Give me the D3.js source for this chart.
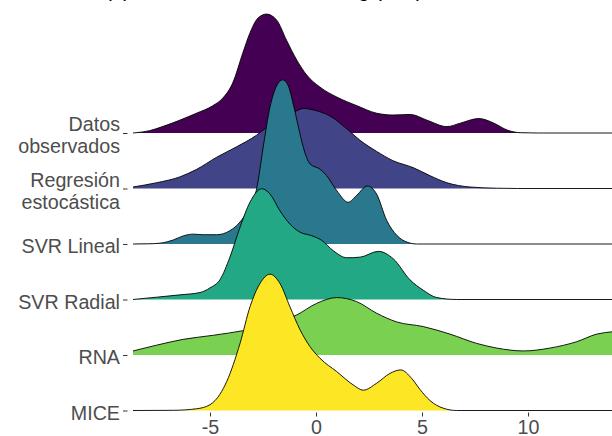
<!DOCTYPE html>
<html>
<head>
<meta charset="utf-8">
<script src="https://cdn.jsdelivr.net/npm/d3@7"></script>
<style>
  html, body { margin: 0; padding: 0; background: #fff; }
  svg { display: block; font-family: "Liberation Sans", Arial, sans-serif; }
</style>
</head>
<body>
<svg id="chart" width="612" height="436"></svg>
<script>
// Categories, top ridge first
const categories = ["Datos observados", "Regresión estocástica", "SVR Lineal", "SVR Radial", "RNA", "MICE"];
const tickLabels = [["Datos", "observados"], ["Regresión", "estocástica"], ["SVR Lineal"], ["SVR Radial"], ["RNA"], ["MICE"]];
const colors = ["#440154", "#414487", "#2A788E", "#22A884", "#7AD151", "#FDE725"];
const xTicks = [-5, 0, 5, 10];
const titleText = "(a) Distribución en escala log (mm)";

// Kernel density estimates: [value, density]
const densObservados = [[-8.63,0],[-8.48,0.0005],[-7.85,0.004],[-7.24,0.011],[-6.43,0.022],[-5.64,0.034],[-4.87,0.047],[-4.40,0.060],[-3.93,0.086],[-3.45,0.138],[-3.12,0.172],[-2.74,0.198],[-2.33,0.205],[-1.86,0.195],[-1.39,0.160],[-0.91,0.126],[-0.44,0.100],[0.19,0.079],[0.98,0.062],[1.93,0.047],[2.87,0.034],[3.64,0.031],[4.45,0.032],[5.24,0.022],[6.18,0.011],[6.81,0.017],[7.68,0.025],[8.39,0.017],[9.02,0.005],[9.65,0.0005],[10.5,0],[13.96,0]];
const densRegresion = [[-8.63,0.0026],[-7.51,0.010],[-6.42,0.020],[-5.63,0.033],[-4.68,0.054],[-3.74,0.072],[-2.80,0.092],[-2.33,0.105],[-1.60,0.122],[-0.91,0.134],[-0.60,0.138],[0.03,0.134],[0.66,0.125],[1.45,0.103],[2.08,0.083],[2.86,0.064],[3.63,0.048],[4.58,0.036],[5.38,0.022],[6.17,0.010],[7.26,0.0026],[8.52,0.0005],[9.5,0],[13.96,0]];
const densLineal = [[-8.63,0],[-7.9,0.0003],[-7.36,0.0014],[-6.73,0.007],[-6.26,0.014],[-5.79,0.017],[-5.32,0.016],[-4.68,0.016],[-4.06,0.023],[-3.58,0.038],[-3.19,0.060],[-2.80,0.095],[-2.49,0.167],[-2.17,0.236],[-1.85,0.273],[-1.57,0.283],[-1.31,0.273],[-1.07,0.241],[-0.83,0.202],[-0.60,0.167],[-0.28,0.138],[0.19,0.129],[0.50,0.118],[0.98,0.092],[1.52,0.072],[1.92,0.084],[2.42,0.100],[2.86,0.086],[3.33,0.041],[3.81,0.015],[4.28,0.0034],[4.75,0],[13.96,0]];
const densRadial = [[-8.63,0],[-7.51,0.004],[-6.42,0.008],[-5.47,0.012],[-5.00,0.020],[-4.53,0.034],[-4.06,0.073],[-3.58,0.125],[-3.11,0.168],[-2.56,0.191],[-2.17,0.182],[-1.70,0.153],[-1.23,0.130],[-0.75,0.116],[-0.20,0.110],[0.27,0.102],[0.82,0.084],[1.45,0.072],[2.08,0.073],[2.94,0.083],[3.65,0.070],[4.43,0.034],[5.06,0.016],[5.69,0.0034],[6.64,0],[13.96,0]];
const densRNA = [[-8.63,0.007],[-7.51,0.017],[-6.26,0.027],[-4.84,0.034],[-3.43,0.042],[-2.17,0.052],[-0.91,0.069],[0.03,0.089],[0.98,0.099],[1.92,0.092],[2.86,0.072],[3.81,0.057],[5.06,0.049],[6.32,0.036],[7.58,0.020],[8.52,0.012],[9.78,0.007],[11.04,0.012],[12.30,0.023],[13.24,0.036],[13.96,0.040]];
const densMICE = [[-8.63,0],[-6.73,0.0003],[-5.63,0.003],[-5.00,0.010],[-4.53,0.028],[-4.21,0.050],[-3.58,0.116],[-3.11,0.179],[-2.64,0.219],[-2.17,0.235],[-1.70,0.219],[-1.23,0.179],[-0.75,0.139],[-0.28,0.110],[0.19,0.090],[0.98,0.067],[1.76,0.044],[2.23,0.035],[2.86,0.047],[3.49,0.064],[4.00,0.070],[4.52,0.055],[4.91,0.036],[5.38,0.017],[6.00,0.004],[6.64,0],[13.96,0]];

const series = [densObservados, densRegresion, densLineal, densRadial, densRNA, densMICE];

const svg = d3.select("#chart");

const x = d3.scaleLinear().domain([-8.63, 13.96]).range([133, 612]);
const y = d3.scalePoint().domain(categories).range([133, 410.5]);
const h = d3.scaleLinear().domain([0, 0.1]).range([0, 58]);
const color = d3.scaleOrdinal().domain(categories).range(colors);

svg.append("defs").append("clipPath").attr("id", "panel")
  .append("rect").attr("x", 133).attr("y", 0).attr("width", 479).attr("height", 436);

const panel = svg.append("g").attr("clip-path", "url(#panel)");

// Ridges drawn from top to bottom so lower ones overlap upper ones
categories.forEach((cat, i) => {
  const base = y(cat);
  const area = d3.area()
    .x(d => x(d[0]))
    .y0(base)
    .y1(d => base - h(d[1]))
    .curve(d3.curveMonotoneX);
  const line = d3.line()
    .x(d => x(d[0]))
    .y(d => base - h(d[1]))
    .curve(d3.curveMonotoneX);
  const g = panel.append("g").attr("class", "ridge");
  g.append("path").datum(series[i])
    .attr("d", area)
    .attr("fill", color(cat))
    .attr("stroke", "none");
  g.append("path").datum(series[i])
    .attr("d", line)
    .attr("fill", "none")
    .attr("stroke", "#000")
    .attr("stroke-width", 0.9);
});

// X axis
const xAxis = svg.append("g")
  .attr("transform", "translate(0,412.5)")
  .call(d3.axisBottom(x).tickValues(xTicks).tickSize(4).tickPadding(4).tickFormat(d3.format("d")));
xAxis.select(".domain").remove();
xAxis.selectAll(".tick line").attr("stroke", "#333").attr("stroke-width", 1);
xAxis.selectAll(".tick text")
  .attr("fill", "#4D4D4D")
  .style("font-size", "19.7px")
  .style("font-family", "'Liberation Sans', Arial, sans-serif")
  .text(d => d < 0 ? "-" + Math.abs(d) : d);

// Y axis with multi-line labels
const yAxis = svg.append("g")
  .attr("transform", "translate(127.5,0)")
  .call(d3.axisLeft(y).tickSize(4.5).tickPadding(3));
yAxis.select(".domain").remove();
yAxis.selectAll(".tick line").attr("stroke", "#333").attr("stroke-width", 1);
yAxis.selectAll(".tick text").each(function(d) {
  const t = d3.select(this);
  const lines = tickLabels[categories.indexOf(d)];
  t.text(null)
    .attr("x", -7.5)
    .attr("dy", null)
    .attr("text-anchor", "end")
    .attr("fill", "#4D4D4D")
    .style("font-size", "19.7px")
    .style("font-family", "'Liberation Sans', Arial, sans-serif");
  if (lines.length === 1) {
    t.append("tspan").attr("x", -7.5).attr("y", 8.6).text(lines[0]);
  } else {
    t.append("tspan").attr("x", -7.5).attr("y", -2.2).text(lines[0]);
    t.append("tspan").attr("x", -7.5).attr("y", 19.5).text(lines[1]);
  }
});

// Title, mostly above the visible area
svg.append("text")
  .attr("x", 105)
  .attr("y", -3)
  .attr("fill", "#000")
  .style("font-size", "20.5px")
  .text(titleText);
</script>
</body>
</html>
